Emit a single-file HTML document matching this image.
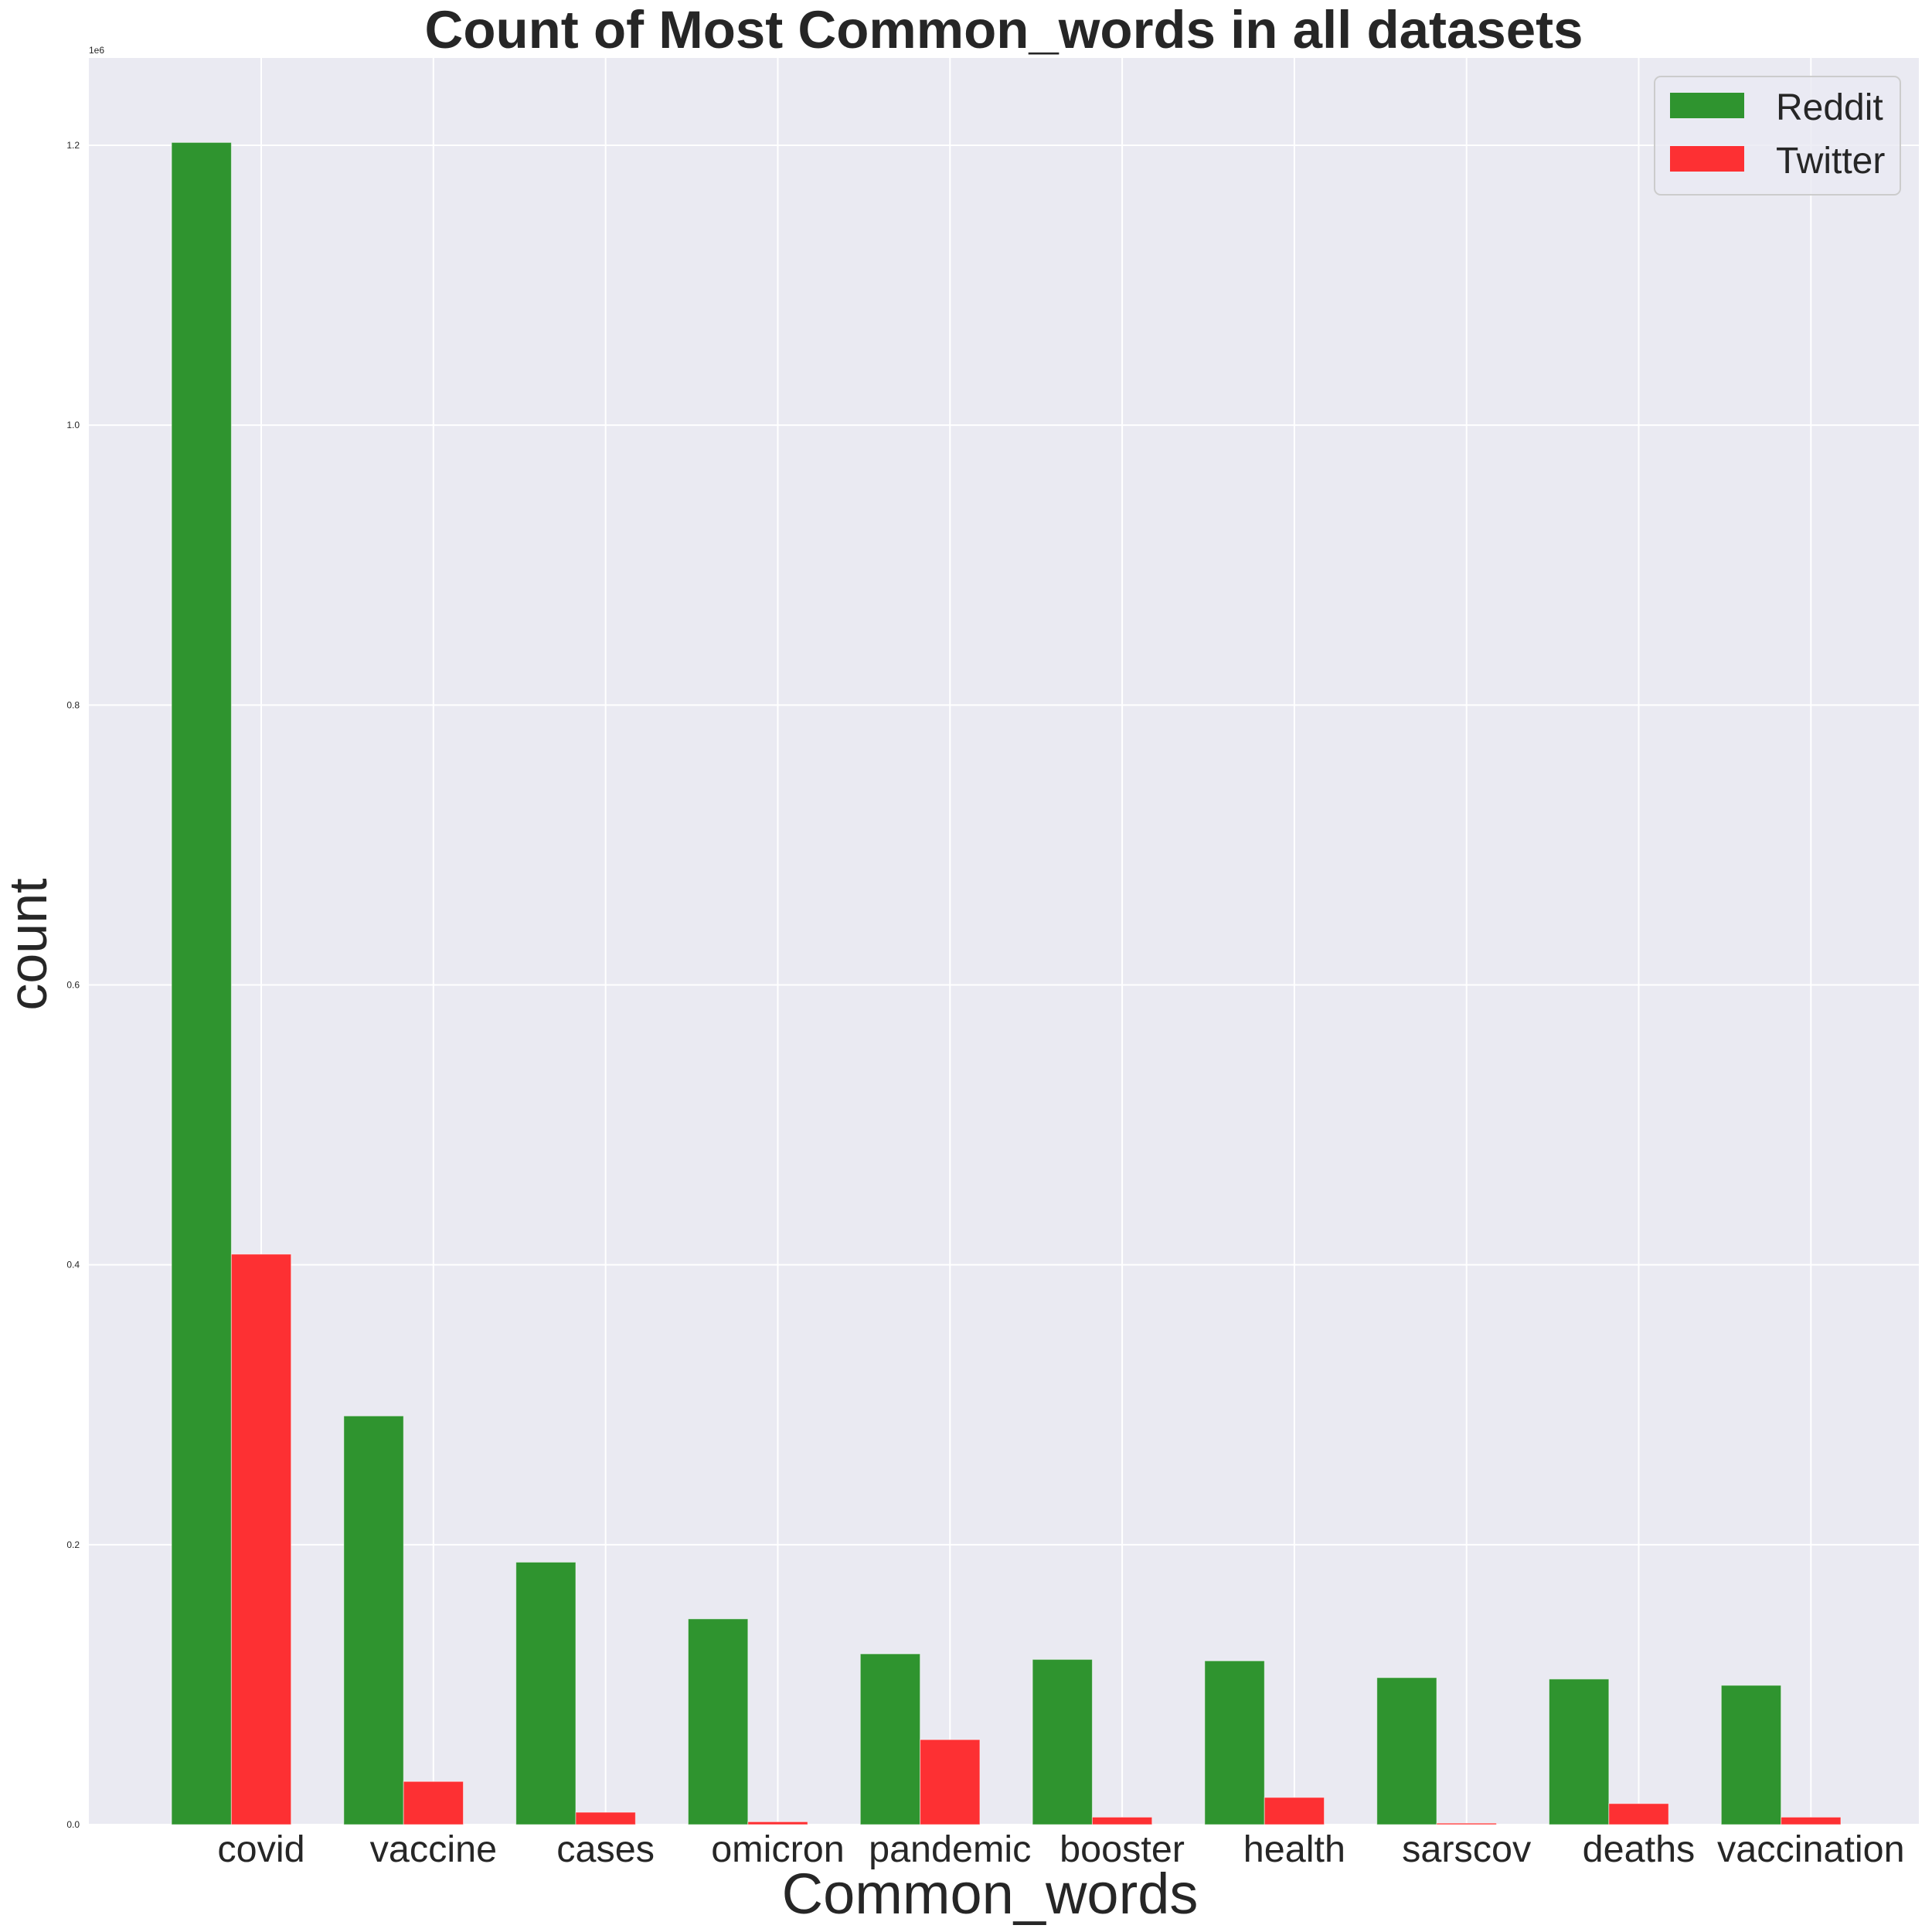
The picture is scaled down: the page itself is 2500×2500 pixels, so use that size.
<!DOCTYPE html>
<html><head><meta charset="utf-8"><style>
html,body{margin:0;padding:0;background:#fff;}
svg{display:block;font-family:"Liberation Sans",Arial,sans-serif;}
</style></head><body>
<svg id="chart" width="2500" height="2500" viewBox="0 0 2500 2500"></svg>
<script>
const categories = ["covid","vaccine","cases","omicron","pandemic","booster","health","sarscov","deaths","vaccination"];
const redditValues = [1202000,292000,187500,147000,122000,118000,117000,105000,104000,99500];
const twitterValues = [407600,30800,8800,2000,60700,5300,19400,1000,15000,5300];
const yTicks = [0,200000,400000,600000,800000,1000000,1200000];
const yTickLabels = ["0.0","0.2","0.4","0.6","0.8","1.0","1.2"];

const NS="http://www.w3.org/2000/svg";
const svg=document.getElementById('chart');
const L=115,R=2483,T=75,B=2361;
const yMax=1262400;
const xMin=-1.001, xMax=9.627, barW=0.347;
function X(v){return L+(v-xMin)/(xMax-xMin)*(R-L);}
function Y(v){return B-v/yMax*(B-T);}
function mk(tag,attrs,parent){const e=document.createElementNS(NS,tag);for(const k in attrs)e.setAttribute(k,attrs[k]);(parent||svg).appendChild(e);return e;}

const bg=mk('rect',{x:L,y:T,width:R-L,height:B-T,fill:'#eaeaf2'});



yTicks.forEach((t,i)=>{
  const g=mk('line',{x1:L,x2:R,y1:Y(t),y2:Y(t),stroke:'#fff','stroke-width':2});
  
  
  const tx=mk('text',{x:103,y:Y(t)+4,'font-size':12,'text-anchor':'end',fill:'#262626'});
  tx.textContent=yTickLabels[i];
  
  
});
categories.forEach((c,i)=>{
  const g=mk('line',{x1:X(i),x2:X(i),y1:T,y2:B,stroke:'#fff','stroke-width':2});
  
  
});
categories.forEach((c,i)=>{
  const g=mk('rect',{x:X(i-1.5*barW),y:Y(redditValues[i]),width:X(i-barW/2)-X(i-1.5*barW),height:B-Y(redditValues[i]),fill:'#2f942f',stroke:'#fff','stroke-width':1,'stroke-opacity':0.5});
  
  
  const r=mk('rect',{x:X(i-barW/2),y:Y(twitterValues[i]),width:X(i+barW/2)-X(i-barW/2),height:B-Y(twitterValues[i]),fill:'#fd3033',stroke:'#fff','stroke-width':1,'stroke-opacity':0.5});
  
  
  const t=mk('text',{x:X(i),y:2409,'font-size':48.5,'text-anchor':'middle',fill:'#262626'});
  t.textContent=c;
  
  
});
</script>
<script>
(function(){
const NS="http://www.w3.org/2000/svg";const svg=document.getElementById('chart');
function mk(tag,attrs){const e=document.createElementNS(NS,tag);for(const k in attrs)e.setAttribute(k,attrs[k]);svg.appendChild(e);return e;}
let e;
e=mk('text',{x:115,y:69,'font-size':12,fill:'#262626'});e.textContent='1e6';


e=mk('text',{x:1299,y:62,'font-size':69,'font-weight':'bold','text-anchor':'middle',fill:'#262626'});e.textContent='Count of Most Common_words in all datasets';


e=mk('text',{x:1281,y:2476,'font-size':74,'text-anchor':'middle',fill:'#262626'});e.textContent='Common_words';


e=mk('text',{x:0,y:0,'font-size':70,'text-anchor':'middle',fill:'#262626',transform:'translate(60,1222) rotate(-90)'});e.textContent='count';


e=mk('rect',{x:2141,y:99,width:318,height:153,rx:8,fill:'#eaeaf2','fill-opacity':0.8,stroke:'#cccccc','stroke-width':2});


e=mk('rect',{x:2161,y:120,width:96,height:33,fill:'#2f942f'});


e=mk('text',{x:2298,y:155,'font-size':48,fill:'#262626'});e.textContent='Reddit';


e=mk('rect',{x:2161,y:189,width:96,height:33,fill:'#fd3033'});


e=mk('text',{x:2298,y:224,'font-size':48,fill:'#262626'});e.textContent='Twitter';


})();
</script>
</body></html>
